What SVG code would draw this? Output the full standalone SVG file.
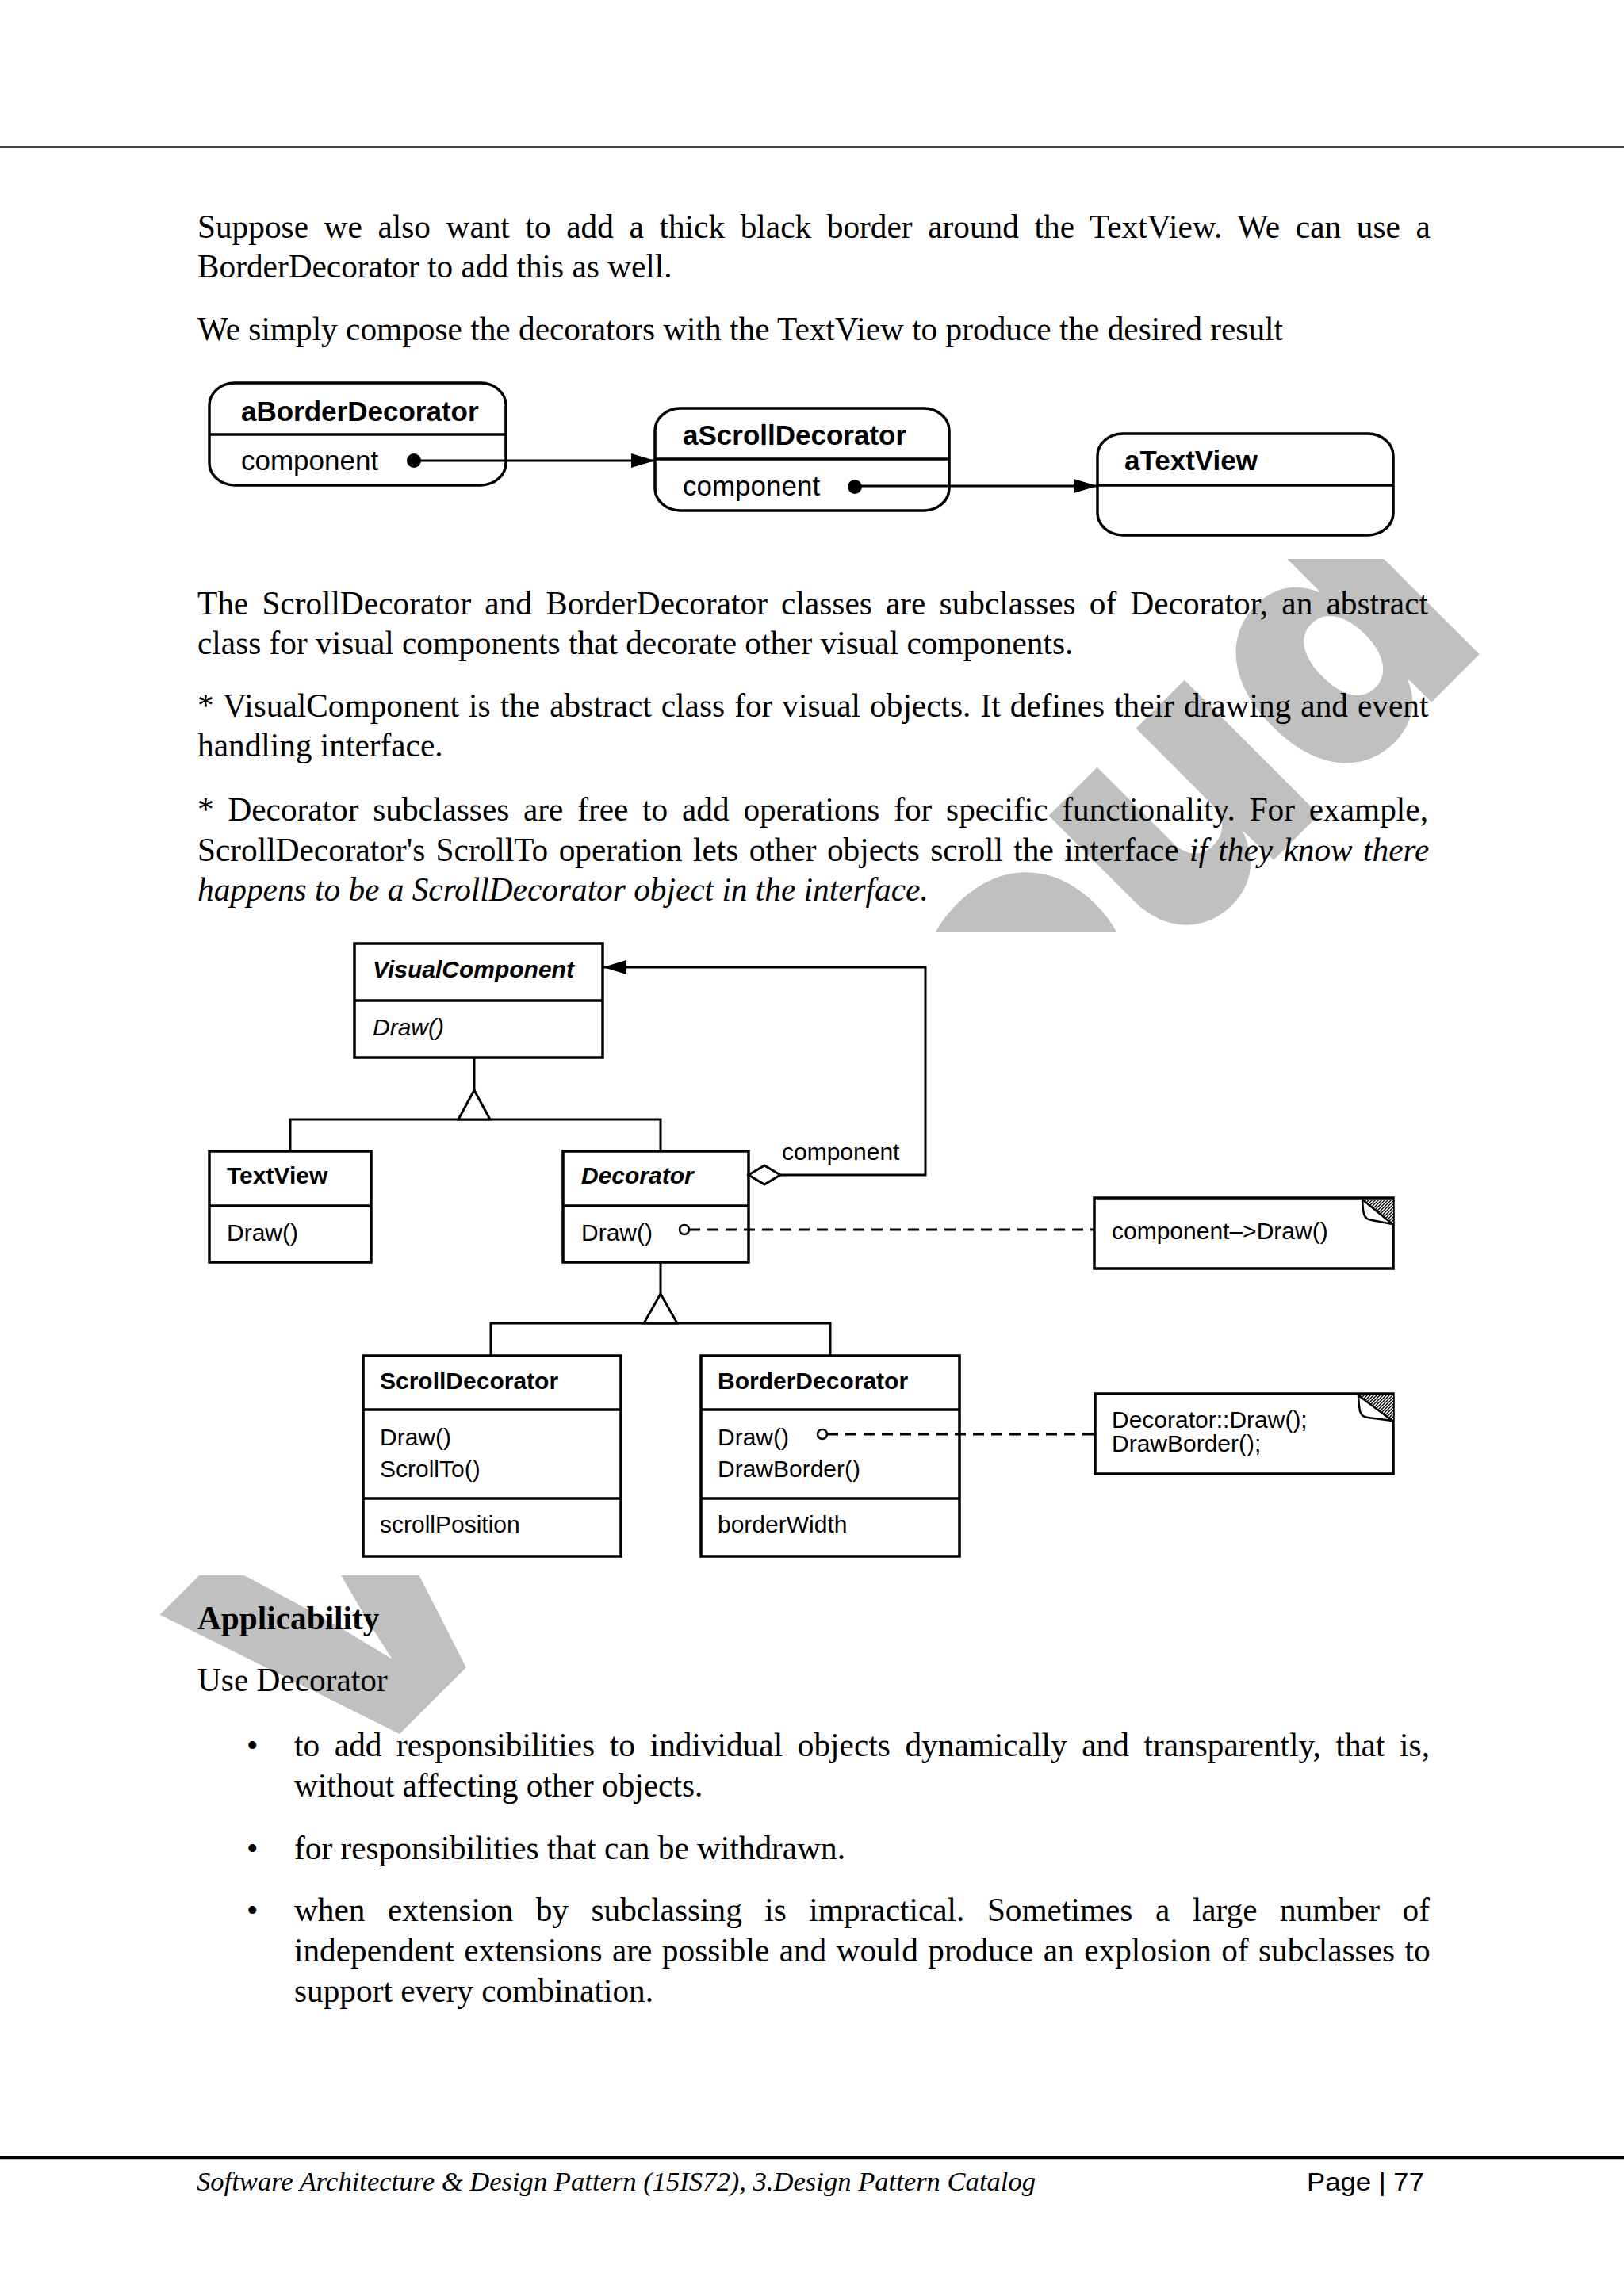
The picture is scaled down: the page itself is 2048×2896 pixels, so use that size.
<svg xmlns="http://www.w3.org/2000/svg" width="2048" height="2896" viewBox="0 0 2048 2896">
<style>
.body{font-family:"Liberation Serif","Times New Roman",serif;font-size:41.3px;fill:#000}
.it{font-style:italic}
.bd{font-weight:bold}
.dg{font-family:"Liberation Sans",Arial,sans-serif;font-size:30px;fill:#000}
.og{font-family:"Liberation Sans",Arial,sans-serif;font-size:35px;fill:#000}
.box{fill:#fff;stroke:#000;stroke-width:3.5}
.sep{stroke:#000;stroke-width:3.5}
.ln{fill:none;stroke:#000;stroke-width:3}
.dash{fill:none;stroke:#000;stroke-width:3;stroke-dasharray:14 9}
.tri{fill:#fff;stroke:#000;stroke-width:3;stroke-linejoin:miter}
.wm{font-family:Inter,Lato,Roboto,"DejaVu Sans",sans-serif;font-weight:900;font-size:440px;fill:#c0c0c0}
</style>
<defs>
<marker id="arr" viewBox="0 0 10 10" refX="10" refY="5" markerUnits="userSpaceOnUse" markerWidth="30" markerHeight="18" orient="auto" preserveAspectRatio="none"><path d="M0,0 L10,5 L0,10 Z" fill="#000"/></marker>
<pattern id="hatch" width="4" height="4" patternUnits="userSpaceOnUse"><rect width="4" height="4" fill="#fff"/><path d="M0,4 L4,0 M-1,1 L1,-1 M3,5 L5,3" stroke="#000" stroke-width="1.3"/></pattern>
<clipPath id="wmclip"><path clip-rule="evenodd" d="M0,0H2048V2896H0Z M240,455H1812V705H240Z M240,1176H1812V1987H240Z"/></clipPath>
</defs>
<rect width="2048" height="2896" fill="#fff"/>

<g id="watermark" clip-path="url(#wmclip)">
<text class="wm" transform="translate(421,2270) rotate(-45)" textLength="2065" lengthAdjust="spacing">Vtucloud</text>
</g>

<g id="page-rules">
<line x1="0" y1="185.5" x2="2048" y2="185.5" stroke="#000" stroke-width="2.5"/>
<line x1="0" y1="2721.5" x2="2048" y2="2721.5" stroke="#000" stroke-width="3.3"/>
<line x1="0" y1="2724.3" x2="2048" y2="2724.3" stroke="#888" stroke-width="1.3"/>
</g>

<g id="body-text">
<text class="body" x="249" y="300" word-spacing="9.32">Suppose we also want to add a thick black border around the TextView. We can use a</text>
<text class="body" x="249" y="350">BorderDecorator to add this as well.</text>
<text class="body" x="249" y="429">We simply compose the decorators with the TextView to produce the desired result</text>
<text class="body" x="249" y="775" word-spacing="6.87">The ScrollDecorator and BorderDecorator classes are subclasses of Decorator, an abstract</text>
<text class="body" x="249" y="825">class for visual components that decorate other visual components.</text>
<text class="body" x="249" y="904" word-spacing="1.76">* VisualComponent is the abstract class for visual objects. It defines their drawing and event</text>
<text class="body" x="249" y="954">handling interface.</text>
<text class="body" x="249" y="1035" word-spacing="7.43">* Decorator subclasses are free to add operations for specific functionality. For example,</text>
<text class="body" x="249" y="1086" word-spacing="3.05">ScrollDecorator's ScrollTo operation lets other objects scroll the interface <tspan class="it">if they know there</tspan></text>
<text class="body it" x="249" y="1136">happens to be a ScrollDecorator object in the interface.</text>

<text class="body bd" x="249" y="2055">Applicability</text>
<text class="body" x="249" y="2133">Use Decorator</text>
<text class="body" x="311" y="2215">•</text>
<text class="body" x="371" y="2215" word-spacing="8.36">to add responsibilities to individual objects dynamically and transparently, that is,</text>
<text class="body" x="371" y="2266">without affecting other objects.</text>
<text class="body" x="311" y="2345">•</text>
<text class="body" x="371" y="2345">for responsibilities that can be withdrawn.</text>
<text class="body" x="311" y="2423">•</text>
<text class="body" x="371" y="2423" word-spacing="18.15">when extension by subclassing is impractical. Sometimes a large number of</text>
<text class="body" x="371" y="2474" word-spacing="2.1">independent extensions are possible and would produce an explosion of subclasses to</text>
<text class="body" x="371" y="2525">support every combination.</text>
</g>

<g id="footer">
<text class="body it" x="248" y="2763" style="font-size:34px" textLength="1058" lengthAdjust="spacingAndGlyphs">Software Architecture &amp; Design Pattern (15IS72), 3.Design Pattern Catalog</text>
<text x="1648" y="2763" style="font-family:'Liberation Sans',Arial,sans-serif;font-size:31px" textLength="148" lengthAdjust="spacingAndGlyphs">Page | 77</text>
</g>

<!-- Object diagram -->
<g id="aBorderDecorator">
<rect class="box" x="264" y="483" width="374" height="129" rx="32" ry="28"/>
<line class="sep" x1="264" y1="548" x2="638" y2="548"/>
<text class="og bd" x="304" y="531">aBorderDecorator</text>
<text class="og" x="304" y="593">component</text>
</g>
<g id="aScrollDecorator">
<rect class="box" x="826" y="515" width="371" height="129" rx="32" ry="28"/>
<line class="sep" x1="826" y1="579" x2="1197" y2="579"/>
<text class="og bd" x="861" y="561">aScrollDecorator</text>
<text class="og" x="861" y="625">component</text>
</g>
<g id="aTextView">
<rect class="box" x="1384" y="547" width="373" height="128" rx="32" ry="28"/>
<line class="sep" x1="1384" y1="612" x2="1757" y2="612"/>
<text class="og bd" x="1418" y="593">aTextView</text>
</g>

<!-- Class diagram -->
<g id="VisualComponent">
<rect class="box" x="447" y="1190" width="313" height="144"/>
<line class="sep" x1="447" y1="1262" x2="760" y2="1262"/>
<text class="dg bd it" x="470" y="1233">VisualComponent</text>
<text class="dg it" x="470" y="1306">Draw()</text>
</g>
<g id="TextView">
<rect class="box" x="264" y="1452" width="204" height="140"/>
<line class="sep" x1="264" y1="1521" x2="468" y2="1521"/>
<text class="dg bd" x="286" y="1493">TextView</text>
<text class="dg" x="286" y="1565">Draw()</text>
</g>
<g id="Decorator">
<rect class="box" x="710" y="1452" width="234" height="140"/>
<line class="sep" x1="710" y1="1521" x2="944" y2="1521"/>
<text class="dg bd it" x="733" y="1493">Decorator</text>
<text class="dg" x="733" y="1565">Draw()</text>
</g>
<g id="ScrollDecorator">
<rect class="box" x="458" y="1710" width="325" height="253"/>
<line class="sep" x1="458" y1="1778" x2="783" y2="1778"/>
<line class="sep" x1="458" y1="1890" x2="783" y2="1890"/>
<text class="dg bd" x="479" y="1752">ScrollDecorator</text>
<text class="dg" x="479" y="1823">Draw()</text>
<text class="dg" x="479" y="1863">ScrollTo()</text>
<text class="dg" x="479" y="1933">scrollPosition</text>
</g>
<g id="BorderDecorator">
<rect class="box" x="884" y="1710" width="326" height="253"/>
<line class="sep" x1="884" y1="1778" x2="1210" y2="1778"/>
<line class="sep" x1="884" y1="1890" x2="1210" y2="1890"/>
<text class="dg bd" x="905" y="1752">BorderDecorator</text>
<text class="dg" x="905" y="1823">Draw()</text>
<text class="dg" x="905" y="1863">DrawBorder()</text>
<text class="dg" x="905" y="1933">borderWidth</text>
</g>
<g id="note-decorator-draw">
<rect class="box" x="1380" y="1511" width="377" height="89"/>
<path d="M1718,1513 L1757,1513 L1757,1544 Z" fill="url(#hatch)"/>
<path d="M1718,1513 C1719,1530 1719,1538 1730,1539 L1756,1544 Z" fill="#fff" stroke="#000" stroke-width="2.5" stroke-linejoin="round"/>
<text class="dg" x="1402" y="1563">component–&gt;Draw()</text>
</g>
<g id="note-border-draw">
<rect class="box" x="1381" y="1758" width="376" height="101"/>
<path d="M1713,1760 L1757,1760 L1757,1792 Z" fill="url(#hatch)"/>
<path d="M1713,1760 C1714,1778 1714,1787 1725,1788 L1756,1792 Z" fill="#fff" stroke="#000" stroke-width="2.5" stroke-linejoin="round"/>
<text class="dg" x="1402" y="1801">Decorator::Draw();</text>
<text class="dg" x="1402" y="1831">DrawBorder();</text>
</g>

<g id="connectors">
<path class="ln" d="M522,581 H826" marker-end="url(#arr)"/>
<circle cx="522" cy="581" r="9" fill="#000"/>
<path class="ln" d="M1078,613 H1384" marker-end="url(#arr)"/>
<circle cx="1078" cy="614" r="9" fill="#000"/>
<path class="ln" d="M598,1334 V1375 M366,1452 V1412 H833 V1452"/>
<polygon class="tri" points="598,1375 618,1412 578,1412"/>
<path class="ln" d="M833,1592 V1632 M619,1710 V1669 H1047 V1710"/>
<polygon class="tri" points="833,1632 854,1669 812,1669"/>
<path class="ln" d="M984,1482 H1167 V1220 H760" marker-end="url(#arr)"/>
<polygon class="tri" points="944,1482 964,1470 984,1482 964,1494"/>
<text class="dg" x="986" y="1463">component</text>
<path class="dash" d="M869,1551 H1380"/>
<circle cx="863" cy="1551" r="6" fill="#fff" stroke="#000" stroke-width="2.5"/>
<path class="dash" d="M1043,1809 H1381"/>
<circle cx="1037" cy="1809" r="6" fill="#fff" stroke="#000" stroke-width="2.5"/>
</g>
</svg>
